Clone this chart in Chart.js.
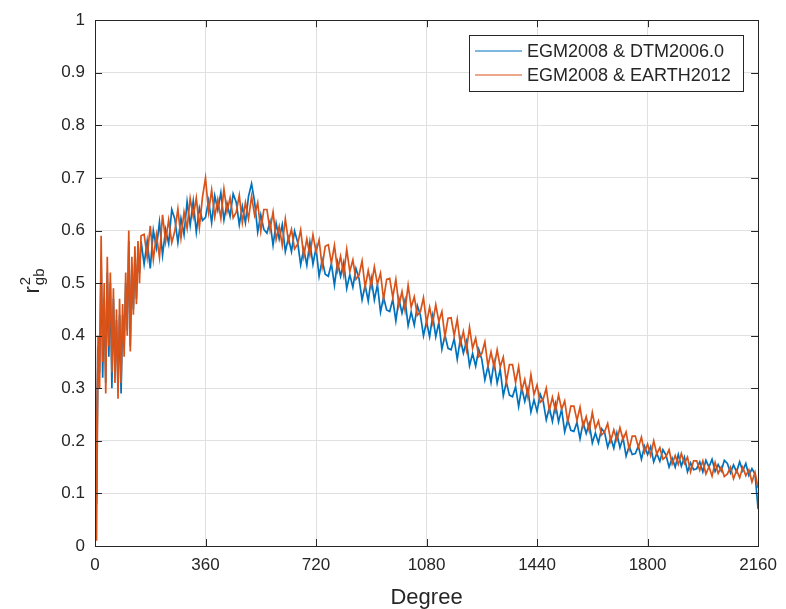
<!DOCTYPE html>
<html>
<head>
<meta charset="utf-8">
<script src="https://cdn.jsdelivr.net/npm/chart.js@4.4.1/dist/chart.umd.min.js"></script>
<style>
  html, body { margin: 0; padding: 0; background: #fff; }
  #wrap { width: 786px; height: 609px; }
</style>
</head>
<body>
<div id="wrap"><canvas id="chart" width="786" height="609"></canvas></div>
<script>
// Degree grid: every 5 up to 150, then every 10 up to 2160
const degrees = [];
for (let d = 0; d <= 150; d += 5) degrees.push(d);
for (let d = 160; d <= 2160; d += 10) degrees.push(d);

const seriesLabels = ['EGM2008 & DTM2006.0', 'EGM2008 & EARTH2012'];

// r^2_gb, EGM2008 vs DTM2006.0
const dtmVals = [
  0.42,0.08,0.38,0.33,0.55,0.32,0.47,0.31,0.52,0.36,0.50,0.30,0.47,0.33,0.43,0.30,
  0.44,0.29,0.44,0.38,0.50,0.41,0.58,0.38,0.53,0.45,0.55,0.47,0.56,0.52,0.58,
  0.536,0.58,0.528,0.60,0.567,0.616,0.553,0.602,0.575,0.64,
  0.622,0.577,0.623,0.592,0.655,0.61,0.656,0.597,0.643,0.619,
  0.625,0.657,0.615,0.666,0.639,0.672,0.62,0.652,0.627,0.67,
  0.654,0.611,0.646,0.615,0.665,0.689,0.654,0.597,0.63,0.602,
  0.595,0.617,0.572,0.614,0.584,0.611,0.56,0.586,0.56,0.599,
  0.578,0.535,0.565,0.534,0.578,0.536,0.567,0.513,0.544,0.517,
  0.513,0.537,0.496,0.54,0.513,0.539,0.49,0.516,0.492,0.528,
  0.509,0.468,0.496,0.466,0.509,0.468,0.497,0.445,0.473,0.449,
  0.446,0.469,0.428,0.47,0.443,0.468,0.419,0.445,0.42,0.457,
  0.439,0.40,0.427,0.398,0.438,0.398,0.425,0.374,0.401,0.376,
  0.373,0.394,0.355,0.394,0.367,0.389,0.343,0.366,0.342,0.374,
  0.355,0.316,0.342,0.311,0.35,0.31,0.336,0.286,0.312,0.287,
  0.284,0.303,0.265,0.301,0.275,0.299,0.255,0.278,0.256,0.289,
  0.275,0.24,0.263,0.237,0.27,0.236,0.26,0.217,0.24,0.22,
  0.218,0.235,0.204,0.235,0.214,0.233,0.196,0.215,0.196,0.223,
  0.216,0.188,0.206,0.186,0.215,0.187,0.206,0.171,0.19,0.174,
  0.176,0.19,0.165,0.19,0.174,0.189,0.16,0.176,0.161,0.183,
  0.173,0.15,0.167,0.15,0.174,0.152,0.169,0.141,0.158,0.145,
  0.147,0.16,0.141,0.163,0.15,0.165,0.142,0.155,0.143,0.163,
  0.157,0.139,0.154,0.141,0.16,0.143,0.157,0.134,0.147,0.137,0.07
];

// r^2_gb, EGM2008 vs EARTH2012
const earthVals = [
  0.46,0.01,0.40,0.30,0.59,0.35,0.50,0.29,0.55,0.38,0.52,0.33,0.49,0.31,0.45,0.28,
  0.47,0.31,0.46,0.36,0.52,0.40,0.60,0.37,0.55,0.44,0.57,0.46,0.58,0.50,0.59,
  0.593,0.549,0.609,0.545,0.592,0.549,0.63,0.579,0.62,0.577,
  0.599,0.641,0.586,0.635,0.604,0.661,0.626,0.662,0.606,0.663,
  0.70,0.635,0.677,0.626,0.659,0.623,0.679,0.636,0.662,0.624,
  0.635,0.667,0.615,0.653,0.622,0.665,0.629,0.653,0.599,0.64,
  0.64,0.601,0.635,0.583,0.608,0.572,0.622,0.58,0.602,0.565,
  0.574,0.601,0.551,0.584,0.553,0.592,0.559,0.582,0.531,0.57,
  0.573,0.538,0.572,0.524,0.551,0.516,0.564,0.522,0.544,0.507,
  0.515,0.542,0.492,0.524,0.494,0.531,0.498,0.519,0.469,0.507,
  0.509,0.473,0.507,0.457,0.484,0.448,0.496,0.454,0.474,0.439,
  0.446,0.472,0.424,0.454,0.424,0.459,0.427,0.446,0.398,0.433,
  0.434,0.40,0.431,0.384,0.408,0.373,0.416,0.376,0.395,0.36,
  0.366,0.388,0.342,0.369,0.34,0.373,0.341,0.359,0.312,0.345,
  0.345,0.311,0.341,0.295,0.317,0.284,0.326,0.288,0.306,0.273,
  0.279,0.30,0.258,0.283,0.257,0.287,0.26,0.276,0.236,0.266,
  0.266,0.239,0.264,0.227,0.246,0.219,0.254,0.223,0.238,0.211,
  0.217,0.233,0.20,0.221,0.201,0.225,0.203,0.217,0.184,0.209,
  0.209,0.188,0.207,0.178,0.194,0.172,0.20,0.175,0.187,0.165,
  0.17,0.183,0.156,0.172,0.155,0.176,0.157,0.169,0.141,0.162,
  0.162,0.144,0.162,0.137,0.151,0.133,0.159,0.138,0.15,0.132,
  0.137,0.15,0.128,0.144,0.13,0.15,0.134,0.145,0.122,0.14,0.11
];

const xTicks = [0, 360, 720, 1080, 1440, 1800, 2160];
const yTicks = [0, 0.1, 0.2, 0.3, 0.4, 0.5, 0.6, 0.7, 0.8, 0.9, 1];
const yTickLabels = ['0', '0.1', '0.2', '0.3', '0.4', '0.5', '0.6', '0.7', '0.8', '0.9', '1'];

const BLUE = '#0072BD';
const ORANGE = '#D95319';
const AXIS = '#262626';
const FONT = "'Liberation Sans', Arial, sans-serif";

const toPoints = (vals) => degrees.map((d, i) => ({ x: d, y: vals[i] }));

// MATLAB-like frame: box, inward ticks, axis titles, legend
const framePlugin = {
    id: 'frame',
    afterDraw(chart) {
        const ctx = chart.ctx;
        const { left, right, top, bottom } = chart.chartArea;
        const xs = chart.scales.x, ys = chart.scales.y;
        const tl = 7;

        ctx.save();
        ctx.strokeStyle = AXIS;
        ctx.lineWidth = 1;
        ctx.strokeRect(Math.round(left) + 0.5, Math.round(top) + 0.5,
            Math.round(right - left), Math.round(bottom - top));

        ctx.beginPath();
        xTicks.forEach(v => {
            const px = Math.round(xs.getPixelForValue(v)) + 0.5;
            ctx.moveTo(px, bottom); ctx.lineTo(px, bottom - tl);
            ctx.moveTo(px, top); ctx.lineTo(px, top + tl);
        });
        yTicks.forEach(v => {
            const py = Math.round(ys.getPixelForValue(v)) + 0.5;
            ctx.moveTo(left, py); ctx.lineTo(left + tl, py);
            ctx.moveTo(right, py); ctx.lineTo(right - tl, py);
        });
        ctx.stroke();

        // x title
        ctx.fillStyle = AXIS;
        ctx.font = '22px ' + FONT;
        ctx.textAlign = 'center';
        ctx.textBaseline = 'alphabetic';
        ctx.fillText('Degree', (left + right) / 2, 604);

        // y title: r^2_gb, rotated
        ctx.save();
        ctx.translate(39, 293.5);
        ctx.rotate(-Math.PI / 2);
        ctx.textAlign = 'left';
        ctx.font = '22px ' + FONT;
        ctx.fillText('r', 0, 0);
        const rw = ctx.measureText('r').width + 1;
        ctx.font = '15px ' + FONT;
        ctx.fillText('2', rw, -9);
        ctx.fillText('gb', rw, 5);
        ctx.restore();

        // legend
        const lx = 469.5, ly = 35.5, lw = 274, lh = 56;
        ctx.fillStyle = '#fff';
        ctx.fillRect(lx, ly, lw, lh);
        ctx.strokeStyle = AXIS;
        ctx.lineWidth = 1;
        ctx.strokeRect(lx, ly, lw, lh);
        const colors = [BLUE, ORANGE];
        const rows = [51, 75];
        ctx.font = '18px ' + FONT;
        ctx.textAlign = 'left';
        ctx.textBaseline = 'middle';
        seriesLabels.forEach((lab, i) => {
            ctx.strokeStyle = colors[i];
            ctx.lineWidth = 1.2;
            ctx.beginPath();
            ctx.moveTo(475, rows[i]); ctx.lineTo(522, rows[i]);
            ctx.stroke();
            ctx.fillStyle = AXIS;
            ctx.fillText(lab, 527, rows[i] + 1);
        });
        ctx.restore();
    }
};

const tickFont = { family: FONT, size: 17 };

new Chart(document.getElementById('chart').getContext('2d'), {
    type: 'line',
    data: {
        datasets: [
            { label: seriesLabels[0], data: toPoints(dtmVals), borderColor: BLUE,
              borderWidth: 1.7, pointRadius: 0, tension: 0, order: 1 },
            { label: seriesLabels[1], data: toPoints(earthVals), borderColor: ORANGE,
              borderWidth: 1.7, pointRadius: 0, tension: 0, order: 0 }
        ]
    },
    options: {
        responsive: false,
        animation: false,
        layout: { padding: { top: 16, right: 24, left: 0, bottom: 0 } },
        plugins: { legend: { display: false }, tooltip: { enabled: false } },
        scales: {
            x: {
                type: 'linear', min: 0, max: 2160,
                afterBuildTicks: s => { s.ticks = xTicks.map(v => ({ value: v })); },
                afterFit: s => { s.height = 63; },
                grid: { color: '#e0e0e0', drawTicks: false },
                border: { display: false },
                ticks: { padding: 9, font: tickFont, color: AXIS, maxRotation: 0,
                         callback: v => String(v) }
            },
            y: {
                type: 'linear', min: 0, max: 1,
                afterBuildTicks: s => { s.ticks = yTicks.map(v => ({ value: v })); },
                afterFit: s => { s.width = 95; },
                grid: { color: '#e0e0e0', drawTicks: false },
                border: { display: false },
                ticks: { padding: 10, font: tickFont, color: AXIS,
                         callback: (v, i) => yTickLabels[i] }
            }
        }
    },
    plugins: [framePlugin]
});
</script>
</body>
</html>
